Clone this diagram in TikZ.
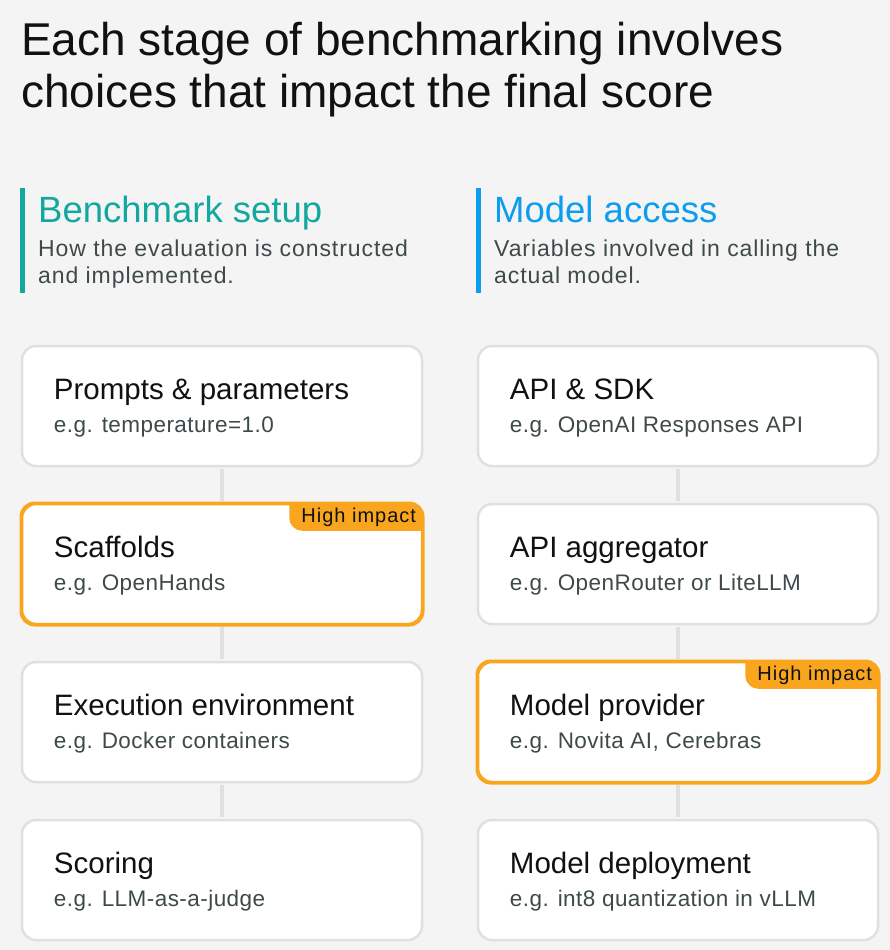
\documentclass[tikz,border=0pt]{standalone}
\usepackage{fontspec}
\setmainfont{Liberation Sans}
\newfontfamily\tagfont[LetterSpace=5]{Liberation Sans}
\newfontfamily\notefont[LetterSpace=4]{Liberation Sans}
\newfontfamily\egfont[LetterSpace=2]{Liberation Sans}
\usepackage{tikz}
\definecolor{pagegray}{RGB}{244,244,244}
\definecolor{setupteal}{RGB}{18,168,160}
\definecolor{accessblue}{RGB}{12,157,238}
\definecolor{boxline}{RGB}{224,224,224}
\definecolor{impactorange}{RGB}{249,166,30}
\definecolor{subgray}{RGB}{62,74,74}
\definecolor{inkblack}{RGB}{17,17,17}

\begin{document}
\begin{tikzpicture}[x=1pt, y=-1pt,
    stage/.style={draw=boxline, line width=2.5pt, fill=white, rounded corners=14pt, minimum width=400pt, minimum height=120pt, inner sep=0pt},
    hot/.style={stage, draw=impactorange},
    link/.style={draw=boxline, line width=3.5pt, shorten <=1.5pt, shorten >=1.5pt},
    stagetitle/.style={anchor=base west, inner sep=0pt, text=inkblack, font=\fontsize{29.5}{34}\selectfont},
    example/.style={anchor=base west, inner sep=0pt, text=subgray, font=\egfont\fontsize{22.5}{26}\selectfont},
    badge/.style={anchor=base east, inner sep=0pt, text=inkblack, font=\tagfont\fontsize{20}{22}\selectfont},
    heading/.style={anchor=base west, inner sep=0pt, font=\fontsize{36.5}{40}\selectfont},
    blurb/.style={anchor=base west, inner sep=0pt, align=left, text=subgray, font=\notefont\fontsize{23}{27}\selectfont}
]

\useasboundingbox (0,0) rectangle (890,950);
\fill[pagegray] (0,0) rectangle (890,950);

% title (base anchor sits on the last line)
\node[anchor=base west, inner sep=0pt, align=left, text=inkblack, font=\fontsize{46}{52}\selectfont] (title) at (21,107)
    {Each stage of benchmarking involves\\choices that impact the final score};

% column headings
\fill[setupteal] (20,188) rectangle (25,293);
\node[heading, text=setupteal] (setup) at (38,222) {Benchmark setup};
\node[blurb] (setupnote) at (38,283) {How the evaluation is constructed\\and implemented.};

\fill[accessblue] (476,188) rectangle (481,293);
\node[heading, text=accessblue] (access) at (494,222) {Model access};
\node[blurb] (accessnote) at (494,283) {Variables involved in calling the\\actual model.};

% boxes
\node[stage] (b1) at (222,406) {};
\node[hot]   (b2) at (222,564) {};
\node[stage] (b3) at (222,722) {};
\node[stage] (b4) at (222,880) {};

\node[stage] (m1) at (678,406) {};
\node[stage] (m2) at (678,564) {};
\node[hot]   (m3) at (678,722) {};
\node[stage] (m4) at (678,880) {};

\draw[link] (b1.south) -- (b2.north);
\draw[link] (b2.south) -- (b3.north);
\draw[link] (b3.south) -- (b4.north);
\draw[link] (m1.south) -- (m2.north);
\draw[link] (m2.south) -- (m3.north);
\draw[link] (m3.south) -- (m4.north);

% high impact tags
\begin{scope}
  \clip[rounded corners=14pt] (b2.north west) rectangle (b2.south east);
  \fill[impactorange, rounded corners=13pt] ([xshift=-134pt, yshift=20pt]b2.north east) rectangle ([xshift=20pt, yshift=-28pt]b2.north east);
\end{scope}
\draw[draw=impactorange, line width=2.5pt, rounded corners=14pt] (b2.north west) rectangle (b2.south east);
\node[badge] (tag2) at ([xshift=-7pt, yshift=-20pt]b2.north east) {High impact};

\begin{scope}
  \clip[rounded corners=14pt] (m3.north west) rectangle (m3.south east);
  \fill[impactorange, rounded corners=13pt] ([xshift=-134pt, yshift=20pt]m3.north east) rectangle ([xshift=20pt, yshift=-28pt]m3.north east);
\end{scope}
\draw[draw=impactorange, line width=2.5pt, rounded corners=14pt] (m3.north west) rectangle (m3.south east);
\node[badge] (tag3) at ([xshift=-7pt, yshift=-20pt]m3.north east) {High impact};

% box texts
\node[stagetitle] (b1t) at ([xshift=33pt, yshift=-55pt]b1.north west) {Prompts \& parameters};
\node[example]    (b1e) at ([xshift=33pt, yshift=-88pt]b1.north west) {e.g. temperature=1.0};
\node[stagetitle] (b2t) at ([xshift=33pt, yshift=-55pt]b2.north west) {Scaffolds};
\node[example]    (b2e) at ([xshift=33pt, yshift=-88pt]b2.north west) {e.g. OpenHands};
\node[stagetitle] (b3t) at ([xshift=33pt, yshift=-55pt]b3.north west) {Execution environment};
\node[example]    (b3e) at ([xshift=33pt, yshift=-88pt]b3.north west) {e.g. Docker containers};
\node[stagetitle] (b4t) at ([xshift=33pt, yshift=-55pt]b4.north west) {Scoring};
\node[example]    (b4e) at ([xshift=33pt, yshift=-88pt]b4.north west) {e.g. LLM-as-a-judge};

\node[stagetitle] (m1t) at ([xshift=33pt, yshift=-55pt]m1.north west) {API \& SDK};
\node[example]    (m1e) at ([xshift=33pt, yshift=-88pt]m1.north west) {e.g. OpenAI Responses API};
\node[stagetitle] (m2t) at ([xshift=33pt, yshift=-55pt]m2.north west) {API aggregator};
\node[example]    (m2e) at ([xshift=33pt, yshift=-88pt]m2.north west) {e.g. OpenRouter or LiteLLM};
\node[stagetitle] (m3t) at ([xshift=33pt, yshift=-55pt]m3.north west) {Model provider};
\node[example]    (m3e) at ([xshift=33pt, yshift=-88pt]m3.north west) {e.g. Novita AI, Cerebras};
\node[stagetitle] (m4t) at ([xshift=33pt, yshift=-55pt]m4.north west) {Model deployment};
\node[example]    (m4e) at ([xshift=33pt, yshift=-88pt]m4.north west) {e.g. int8 quantization in vLLM};

\end{tikzpicture}
\end{document}
